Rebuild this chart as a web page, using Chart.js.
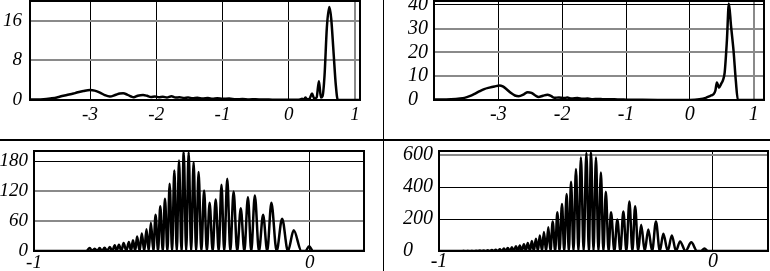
<!DOCTYPE html>
<html>
<head>
<meta charset="utf-8">
<script src="https://cdn.jsdelivr.net/npm/chart.js@4.4.1/dist/chart.umd.min.js"></script>
<style>
    body { margin: 0; background: #fff; }
    #wrap { position: relative; width: 770px; height: 271px; overflow: hidden; background: #fff; }
    canvas { position: absolute; }
    .sep { position: absolute; background: #000; }
</style>
</head>
<body>
<div id="wrap">
    <canvas id="c1" width="382" height="138" style="left:0;top:0"></canvas>
    <canvas id="c2" width="385" height="138" style="left:385px;top:0"></canvas>
    <canvas id="c3" width="382" height="131" style="left:0;top:140px"></canvas>
    <canvas id="c4" width="385" height="131" style="left:385px;top:140px"></canvas>
    <div class="sep" style="left:0;top:139px;width:770px;height:2px"></div>
    <div class="sep" style="left:383px;top:0;width:1px;height:271px"></div>
</div>
<script>
// ================= DATA =================
const topXTicks = [-3, -2, -1, 0, 1];
const bottomXTicks = [-1, 0];
const yTicks1 = [0, 8, 16];
const yTicks2 = [0, 10, 20, 30, 40];
const yTicks3 = [0, 60, 120, 180];
const yTicks4 = [0, 200, 400, 600];

// top left
const p1X = [-3.906, -3.8, -3.7, -3.6, -3.5, -3.45, -3.35, -3.25, -3.2, -3.1, -3.0, -2.93, -2.85, -2.78, -2.7,
    -2.62, -2.55, -2.5, -2.44, -2.38, -2.34, -2.28, -2.2, -2.14, -2.08, -2.02, -1.96, -1.9, -1.84, -1.77,
    -1.71, -1.65, -1.58, -1.52, -1.45, -1.38, -1.3, -1.22, -1.15, -1.08, -1.0, -0.9, -0.8, -0.7, -0.6,
    -0.5, -0.4, -0.3, -0.2, -0.1, 0.0, 0.1, 0.17, 0.2, 0.23, 0.25, 0.28, 0.31, 0.35, 0.385,
    0.42, 0.455, 0.485, 0.51, 0.54, 0.575, 0.612, 0.64, 0.674, 0.71, 0.74, 0.8, 1.075];
const p1Y = [0.1, 0.1, 0.15, 0.3, 0.5, 0.7, 1.0, 1.3, 1.5, 1.8, 2.0, 1.9, 1.5, 1.0, 0.7,
    1.0, 1.3, 1.35, 1.1, 0.7, 0.55, 0.85, 1.0, 0.85, 0.6, 0.7, 0.55, 0.65, 0.5, 0.75,
    0.5, 0.55, 0.4, 0.5, 0.35, 0.45, 0.3, 0.4, 0.25, 0.35, 0.25, 0.3, 0.15, 0.2, 0.12,
    0.15, 0.08, 0.1, 0.05, 0.05, 0.03, 0.05, 0.1, 0.25, 0.1, 0.5, 0.15, 0.2, 1.3, 0.3,
    0.5, 3.8, 0.5, 0.8, 5, 14.7, 18.8, 16.5, 10, 3, 0, 0, 0];

// top right
const p2X = [-4.007, -3.9, -3.74, -3.6, -3.53, -3.45, -3.37, -3.3, -3.22, -3.14, -3.06, -2.98, -2.93, -2.87, -2.8,
    -2.74, -2.68, -2.6, -2.54, -2.48, -2.42, -2.37, -2.3, -2.23, -2.17, -2.12, -2.05, -1.98, -1.92, -1.85,
    -1.76, -1.68, -1.6, -1.52, -1.44, -1.35, -1.25, -1.13, -1.0, -0.8, -0.5, 0.0, 0.15, 0.25, 0.3,
    0.335, 0.37, 0.4, 0.423, 0.455, 0.49, 0.52, 0.545, 0.58, 0.611, 0.645, 0.684, 0.72, 0.752, 0.8, 1.161];
const p2Y = [0.2, 0.2, 0.3, 0.6, 0.9, 1.6, 2.6, 3.6, 4.6, 5.2, 5.7, 6.1, 5.7, 4.5, 2.9,
    1.9, 1.6, 2.4, 3.3, 3.0, 1.9, 1.3, 1.8, 2.2, 1.6, 0.9, 1.1, 0.8, 1.0, 0.6,
    0.8, 0.5, 0.6, 0.35, 0.45, 0.3, 0.35, 0.2, 0.15, 0.1, 0.05, 0.05, 0.3, 0.9, 1.5,
    1.9, 2.4, 4, 7.4, 5.2, 6.8, 8.5, 11.5, 25, 40.5, 31, 20.7, 8, 0, 0, 0];

// bottom left
const p3X = [-1.0, -0.81, -0.798, -0.789, -0.780, -0.771, -0.762, -0.753, -0.744, -0.735, -0.725, -0.716,
    -0.707, -0.700, -0.692, -0.683, -0.675, -0.665, -0.656, -0.648, -0.641, -0.633, -0.626, -0.617,
    -0.609, -0.600, -0.592, -0.584, -0.576, -0.567, -0.559, -0.550, -0.542, -0.533, -0.525, -0.516,
    -0.508, -0.499, -0.491, -0.482, -0.474, -0.465, -0.457, -0.448, -0.439, -0.430, -0.421, -0.412,
    -0.403, -0.393, -0.383, -0.373, -0.363, -0.352, -0.341, -0.330, -0.320, -0.310, -0.299, -0.288,
    -0.276, -0.263, -0.250, -0.237, -0.224, -0.212, -0.199, -0.184, -0.169, -0.154, -0.139, -0.120,
    -0.100, -0.079, -0.058, -0.030, -0.015, -0.002, 0.012, 0.197];
const p3Y = [0, 0, 6, 0, 4.7, 0, 6, 0, 6.7, 0, 8, 0,
    11.4, 0, 12.8, 0, 16, 0, 18, 0, 21.5, 0, 29, 0,
    35, 0, 43.5, 0, 57, 0, 73, 0, 90, 0, 105, 0,
    135, 0, 162, 0, 182, 0, 198.7, 0, 198.7, 0, 178.6, 0,
    158.6, 0, 121.8, 0, 97, 0, 103.7, 0, 133, 0, 145, 0,
    119.8, 0, 86, 0, 108, 0, 111.8, 0, 73, 0, 97, 0,
    65, 0, 41.5, 0, 0, 9.4, 0, 0];

// bottom right
const p4X = [-1.0, -0.92, -0.910, -0.902, -0.895, -0.887, -0.880, -0.873, -0.866, -0.858, -0.851, -0.844,
    -0.837, -0.829, -0.822, -0.815, -0.807, -0.800, -0.793, -0.785, -0.778, -0.771, -0.763, -0.756,
    -0.749, -0.741, -0.734, -0.727, -0.719, -0.712, -0.705, -0.698, -0.690, -0.683, -0.676, -0.668,
    -0.661, -0.654, -0.646, -0.639, -0.632, -0.624, -0.617, -0.609, -0.601, -0.593, -0.585, -0.576,
    -0.568, -0.560, -0.551, -0.543, -0.534, -0.526, -0.518, -0.509, -0.500, -0.491, -0.482, -0.472,
    -0.462, -0.453, -0.445, -0.436, -0.427, -0.418, -0.409, -0.400, -0.391, -0.381, -0.372, -0.360,
    -0.349, -0.338, -0.327, -0.316, -0.305, -0.294, -0.284, -0.273, -0.262, -0.249, -0.236, -0.222,
    -0.208, -0.194, -0.181, -0.165, -0.150, -0.135, -0.120, -0.100, -0.079, -0.058, -0.045, -0.031,
    -0.017, 0.201];
const p4Y = [0, 0, 1.5, 0, 1.5, 0, 2, 0, 2, 0, 3, 0,
    3, 0, 5, 0, 7, 0, 8.5, 0, 10.6, 0, 15, 0,
    19, 0, 23, 0, 29, 0, 35, 0, 42, 0, 50, 0,
    62, 0, 77, 0, 97, 0, 118, 0, 149, 0, 184, 0,
    242, 0, 294, 0, 356, 0, 433, 0, 512, 0, 584, 0,
    613, 0, 615, 0, 584, 0, 491, 0, 371, 0, 242, 0,
    197, 0, 247, 0, 309, 0, 280, 0, 164, 0, 135, 0,
    184, 0, 108, 0, 97.5, 0, 60, 0, 54, 0, 0, 15,
    0, 0];

// ================= STYLE =================
const FONT_FAMILY = "'Liberation Serif', 'Times New Roman', serif";
const GRAY = "#8a8a8a";

// draws the black box round the plot
const framePlugin = {
    id: "frame",
    afterDatasetsDraw(chart) {
        const a = chart.chartArea;
        const ctx = chart.ctx;
        ctx.save();
        ctx.strokeStyle = "#000";
        ctx.lineWidth = 2;
        ctx.strokeRect(a.left, a.top, a.right - a.left, a.bottom - a.top);
        ctx.restore();
    }
};

function gridStyle(grayValues) {
    return {
        drawTicks: false,
        color: c => (c.tick && grayValues.includes(c.tick.value)) ? GRAY : "#000",
        lineWidth: c => (c.tick && grayValues.includes(c.tick.value)) ? 2 : 1
    };
}

// fixed axis size, no extra room for labels that stick out
function fixSize(s, w, h) {
    if (w !== null) s.width = w;
    if (h !== null) s.height = h;
    s.paddingTop = 0;
    s.paddingBottom = 0;
    s.paddingLeft = 0;
    s.paddingRight = 0;
}

function makeChart(id, cfg) {
    const points = cfg.xs.map((x, i) => ({ x: x, y: cfg.ys[i] }));
    const font = { family: FONT_FAMILY, size: cfg.fs, style: "italic" };
    return new Chart(document.getElementById(id), {
        type: "line",
        data: {
            datasets: [{
                data: points,
                borderColor: "#000",
                borderWidth: cfg.lw,
                pointRadius: 0,
                fill: false,
                cubicInterpolationMode: "monotone"
            }]
        },
        options: {
            responsive: false,
            animation: false,
            devicePixelRatio: 1,
            layout: { padding: cfg.pad },
            plugins: { legend: { display: false }, tooltip: { enabled: false } },
            scales: {
                x: {
                    type: "linear",
                    min: cfg.xMin,
                    max: cfg.xMax,
                    afterBuildTicks: s => { s.ticks = cfg.xTicks.map(v => ({ value: v })); },
                    afterFit: s => fixSize(s, null, cfg.xH),
                    grid: gridStyle(cfg.xGray),
                    border: { display: false },
                    ticks: {
                        font: font, color: "#000", padding: cfg.xPad,
                        autoSkip: false, maxRotation: 0,
                        callback: v => String(v)
                    }
                },
                y: {
                    type: "linear",
                    min: 0,
                    max: cfg.yMax,
                    afterBuildTicks: s => { s.ticks = cfg.yTicks.map(v => ({ value: v })); },
                    afterFit: s => fixSize(s, cfg.yW, null),
                    grid: gridStyle(cfg.yGray),
                    border: { display: false },
                    ticks: {
                        font: font, color: "#000", padding: cfg.yPad,
                        crossAlign: cfg.align, autoSkip: false,
                        callback: v => String(v)
                    }
                }
            }
        },
        plugins: [framePlugin]
    });
}

makeChart("c1", {
    xs: p1X, ys: p1Y, lw: 2.5, fs: 19,
    xMin: -3.906, xMax: 1.075, yMax: 20,
    xTicks: topXTicks, yTicks: yTicks1,
    xGray: [1], yGray: [8, 16],
    pad: { left: 0, right: 22, top: 1, bottom: 0 },
    xH: 38, yW: 30, xPad: 4, yPad: 8, align: "near"
});

makeChart("c2", {
    xs: p2X, ys: p2Y, lw: 2.5, fs: 20,
    xMin: -4.007, xMax: 1.161, yMax: 41.6,
    xTicks: topXTicks, yTicks: yTicks2,
    xGray: [1], yGray: [10, 20, 30],
    pad: { left: 23, right: 6, top: 1, bottom: 0 },
    xH: 38, yW: 26, xPad: 3, yPad: 6, align: "far"
});

makeChart("c3", {
    xs: p3X, ys: p3Y, lw: 2.5, fs: 19,
    xMin: -1, xMax: 0.197, yMax: 201,
    xTicks: bottomXTicks, yTicks: yTicks3,
    xGray: [], yGray: [60, 120],
    pad: { left: 0, right: 18, top: 11, bottom: 0 },
    xH: 20, yW: 34, xPad: 1, yPad: 6, align: "near"
});

makeChart("c4", {
    xs: p4X, ys: p4Y, lw: 2.5, fs: 20,
    xMin: -1, xMax: 0.201, yMax: 625,
    xTicks: bottomXTicks, yTicks: yTicks4,
    xGray: [], yGray: [600],
    pad: { left: 18, right: 2, top: 11, bottom: 0 },
    xH: 20, yW: 36, xPad: -1, yPad: 6, align: "far"
});
</script>
</body>
</html>
